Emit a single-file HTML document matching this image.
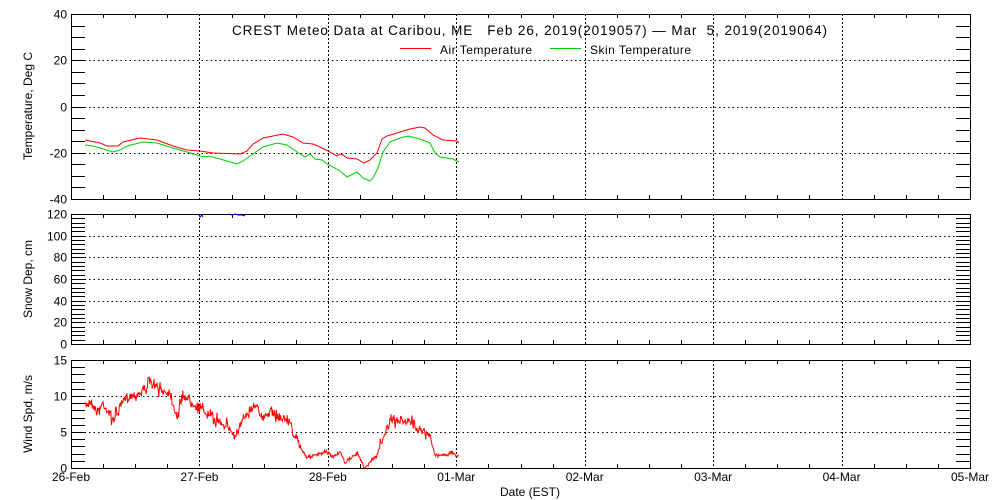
<!DOCTYPE html>
<html><head><meta charset="utf-8"><style>
html,body{margin:0;padding:0;background:#fff;}
svg{display:block;font-family:"Liberation Sans",sans-serif;font-size:12px;}
text{white-space:pre;}
</style></head><body>
<svg id="s" width="1000" height="500" xmlns="http://www.w3.org/2000/svg">
<rect width="1000" height="500" fill="#fff"/>
<g id="g"></g>
<text x="232" y="35" font-size="13.5" textLength="595" lengthAdjust="spacing" xml:space="preserve">CREST Meteo Data at Caribou, ME   Feb 26, 2019(2019057) — Mar  5, 2019(2019064)</text>
<line x1="400" y1="48.5" x2="431" y2="48.5" stroke="#f00"/>
<text x="440" y="54" textLength="92" lengthAdjust="spacing">Air Temperature</text>
<line x1="550" y1="48.5" x2="581" y2="48.5" stroke="#0c0"/>
<text x="590" y="54" textLength="101" lengthAdjust="spacing">Skin Temperature</text>
<text x="530" y="496" text-anchor="middle">Date (EST)</text>
<text transform="translate(32,106) rotate(-90)" text-anchor="middle">Temperature, Deg C</text>
<text transform="translate(32,279) rotate(-90)" text-anchor="middle">Snow Dep, cm</text>
<text transform="translate(32,414) rotate(-90)" text-anchor="middle">Wind Spd, m/s</text>
<polyline fill="none" stroke="#f00" points="85,140 100,143 107,146 118,146 123,142 140,138 157,140 173,146 187,150 200,151 213,153 240,154 247,151 253,144 263,138 273,136 283,134 293,137 303,143 313,144 320,147 330,152 337,156 340,154 343,155 347,158 357,159 364,163 370,160 377,153 382,139 387,136 400,132 410,129 420,127 425,128 433,135 443,140 457,141 459,143"/>
<polyline fill="none" stroke="#0c0" points="85,145 93,146 100,148 113,152 120,150 127,146 143,142 157,143 173,148 187,152 200,156 213,157 227,161 237,164 243,161 253,154 263,147 277,143 287,145 297,152 305,157 310,154 315,159 322,160 327,164 333,167 340,171 347,177 357,172 363,178 370,181 373,178 378,168 383,152 390,142 400,138 408,136 420,139 430,143 435,153 440,157 453,159 459,162"/>
<polyline id="w" fill="none" stroke="#f00" points=""/>
<path d="M199,215 l1,2 l2,-2 l1,2 M229,214 l3,1 l3,-1 l3,1 l4,0 l3,1" stroke="#00c" fill="none"/>
</svg>
<script>
var g=document.getElementById('g'),h='';
var L=71,R=970,D=(R-L)/7;
var P=[[14,199,-40,40,20,5],[214,344,0,120,20,4],[360,468,0,15,5,1]];
var lab=['26-Feb','27-Feb','28-Feb','01-Mar','02-Mar','03-Mar','04-Mar','05-Mar'];
P.forEach(function(p){
 var t=p[0],b=p[1],v0=p[2],v1=p[3],mj=p[4],mn=p[5];
 function Y(v){return b-(v-v0)/(v1-v0)*(b-t);}
 for(var v=v0;v<=v1+1e-6;v+=mn){var y=Math.round(Y(v))+0.5;var maj=Math.abs(v/mj-Math.round(v/mj))<1e-6;
  h+='<line x1="'+L+'" y1="'+y+'" x2="'+(L+14)+'" y2="'+y+'" stroke="#000"/><line x1="'+(R-14)+'" y1="'+y+'" x2="'+R+'" y2="'+y+'" stroke="#000"/>';
  if(maj){h+='<text x="'+(L-4)+'" y="'+(y+4)+'" text-anchor="end">'+v+'</text>';
   if(v>v0&&v<v1)h+='<line x1="'+L+'" y1="'+y+'" x2="'+R+'" y2="'+y+'" stroke="#000" stroke-dasharray="1.5,3"/>';}}
 for(var i=1;i<28;i++){var x=Math.round(L+i*D/4)+0.5;
  if(i%4==0)h+='<line x1="'+x+'" y1="'+t+'" x2="'+x+'" y2="'+b+'" stroke="#000" stroke-dasharray="2,2"/>';
  else h+='<line x1="'+x+'" y1="'+t+'" x2="'+x+'" y2="'+(t+4)+'" stroke="#000"/><line x1="'+x+'" y1="'+(b-4)+'" x2="'+x+'" y2="'+b+'" stroke="#000"/>';}
 h+='<rect x="'+(L+0.5)+'" y="'+(t+0.5)+'" width="'+(R-L)+'" height="'+(b-t)+'" fill="none" stroke="#000"/>';
});
for(var i=0;i<8;i++)h+='<text x="'+(L+i*D)+'" y="481" text-anchor="middle">'+lab[i]+'</text>';
g.innerHTML=h;
var B=[[85,407],[90,400],[97,412],[103,403],[113,420],[120,407],[127,397],[140,393],[150,383],[160,390],[170,393],[177,417],[183,395],[193,402],[200,408],[213,418],[227,425],[235,437],[240,428],[247,412],[257,403],[262,420],[270,412],[283,418],[290,422],[295,438],[302,450],[307,457],[317,455],[327,452],[333,457],[340,452],[345,463],[357,453],[365,468],[370,462],[377,455],[383,437],[390,422],[403,420],[413,423],[422,430],[430,437],[435,455],[443,455],[453,453],[459,457]];
var s=7,pts=[];function rnd(){s=(s*16807)%2147483647;return s/2147483647;}
for(var x=85;x<=459;x+=0.6){var k=0;while(k<B.length-2&&B[k+1][0]<x)k++;var a=B[k],c=B[k+1];var y=a[1]+(c[1]-a[1])*(x-a[0])/(c[0]-a[0]);
 var amp=(y>448)?1.5:5;var r=rnd()-0.5;y+=r*2*amp*(rnd()<0.25?1.6:0.8);if(y>468)y=468;pts.push(x.toFixed(1)+','+y.toFixed(1));}
document.getElementById('w').setAttribute('points',pts.join(' '));
</script>
</body></html>
